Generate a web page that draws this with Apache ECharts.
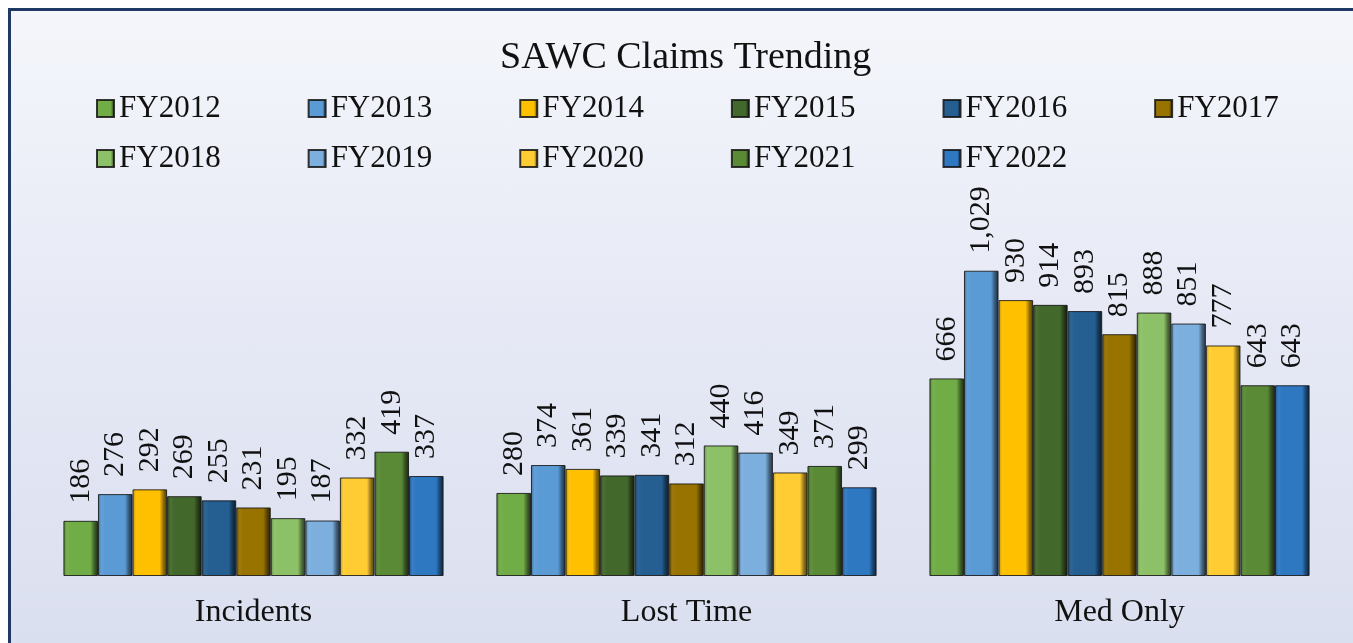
<!DOCTYPE html>
<html>
<head>
<meta charset="utf-8">
<script src="https://cdn.jsdelivr.net/npm/echarts@6/dist/echarts.min.js"></script>
<style>
  html, body { margin: 0; padding: 0; background: #ffffff; overflow: hidden; }
  #frame { position: absolute; left: 8px; top: 8px; width: 1400px; height: 700px;
           border-top: 3px solid #203864; border-left: 3px solid #203864;
           background: linear-gradient(to bottom, #f4f6fb 0%, #e6e9f5 45%, #d8ddee 100%); }
  #chart { position: absolute; left: 0; top: 0; width: 1353px; height: 643px; }
</style>
</head>
<body>
<div id="frame"></div>
<div id="chart"></div>
<script>
const categories = ['Incidents', 'Lost Time', 'Med Only'];
const seriesNames = ['FY2012','FY2013','FY2014','FY2015','FY2016','FY2017','FY2018','FY2019','FY2020','FY2021','FY2022'];
const FY2012 = [186, 280, 666];
const FY2013 = [276, 374, 1029];
const FY2014 = [292, 361, 930];
const FY2015 = [269, 339, 914];
const FY2016 = [255, 341, 893];
const FY2017 = [231, 312, 815];
const FY2018 = [195, 440, 888];
const FY2019 = [187, 416, 851];
const FY2020 = [332, 349, 777];
const FY2021 = [419, 371, 643];
const FY2022 = [337, 299, 643];
const seriesValues = [FY2012, FY2013, FY2014, FY2015, FY2016, FY2017, FY2018, FY2019, FY2020, FY2021, FY2022];

const baseColors = ['#70ad47','#5b9bd5','#ffc000','#43682b','#255e91','#997300','#8cc168','#7cafdd','#ffcd33','#5a8a36','#2e78c2'];

function shade(hex, f) {
  const n = parseInt(hex.slice(1), 16);
  let r = (n >> 16) & 255, g = (n >> 8) & 255, b = n & 255;
  if (f < 0) { r = r * (1 + f); g = g * (1 + f); b = b * (1 + f); }
  else { r = r + (255 - r) * f; g = g + (255 - g) * f; b = b + (255 - b) * f; }
  return 'rgb(' + Math.round(r) + ',' + Math.round(g) + ',' + Math.round(b) + ')';
}
function barFill(c) {
  return new echarts.graphic.LinearGradient(0, 0, 1, 0, [
    { offset: 0, color: shade(c, -0.25) },
    { offset: 0.1, color: shade(c, 0.05) },
    { offset: 0.2, color: c },
    { offset: 0.78, color: c },
    { offset: 0.9, color: shade(c, -0.45) },
    { offset: 1, color: shade(c, -0.7) }
  ]);
}

const chart = echarts.init(document.getElementById('chart'), null, { renderer: 'canvas' });
const font = "'Liberation Serif', 'Times New Roman', serif";

const series = seriesNames.map((name, i) => ({
  name: name,
  type: 'bar',
  data: seriesValues[i],
  barGap: '0%',
  barCategoryGap: '12.2%',
  itemStyle: { color: barFill(baseColors[i]), borderColor: 'rgba(20,20,20,0.85)', borderWidth: 1 },
  label: {
    show: true,
    position: 'top',
    rotate: 90,
    align: 'left',
    verticalAlign: 'middle',
    distance: 17,
    fontFamily: font,
    fontSize: 30,
    color: '#111',
    formatter: p => Number(p.value).toLocaleString('en-US')
  }
}));

const legendCommon = {
  icon: 'rect',
  itemWidth: 17,
  itemHeight: 17,
  itemGap: 87,
  left: 91,
  textStyle: { fontFamily: font, fontSize: 31, color: '#111', padding: [0, 0, 0, 0] },
  selectedMode: false
};

chart.setOption({
  animation: false,
  backgroundColor: 'transparent',
  title: {
    text: 'SAWC Claims Trending',
    left: 495,
    top: 34,
    textStyle: { fontFamily: font, fontSize: 38, fontWeight: 'normal', color: '#111' }
  },
  legend: [
    Object.assign({}, legendCommon, { top: 88, data: seriesNames.slice(0, 6) }),
    Object.assign({}, legendCommon, { top: 138, data: seriesNames.slice(6) })
  ],
  grid: { left: 37, right: 17, top: 220, bottom: 67 },
  xAxis: {
    type: 'category',
    data: categories,
    axisLine: { show: false },
    axisTick: { show: false },
    axisLabel: { fontFamily: font, fontSize: 32, color: '#111', margin: 21 }
  },
  yAxis: {
    type: 'value',
    min: 0,
    max: 1200,
    interval: 200,
    show: false,
    splitLine: { show: false }
  },
  series: series
});
</script>
</body>
</html>
